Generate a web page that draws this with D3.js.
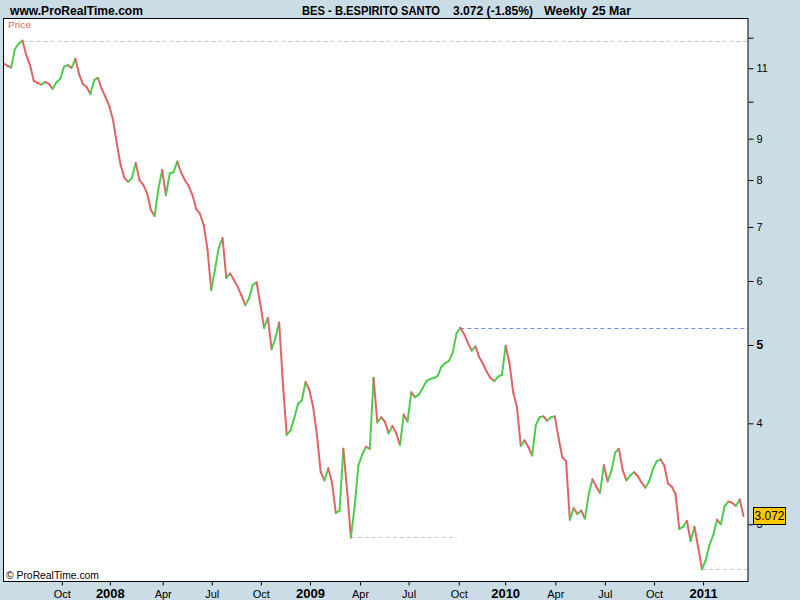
<!DOCTYPE html>
<html>
<head>
<meta charset="utf-8">
<script src="https://cdn.jsdelivr.net/npm/d3@7"></script>
<style>
  html, body { margin: 0; padding: 0; background: #cadce6; }
  svg { display: block; }
  text { font-family: "Liberation Sans", Arial, sans-serif; }
</style>
</head>
<body>
<svg id="chart" width="800" height="600"></svg>
<script>
// ---------- DATA ----------
const firstWeek = "2007-06-18";   // weekly bars (Monday of week), last = 2011-03-21 (25 Mar)
const closes = [
  11.15, 11.08, 11.02, 11.62, 11.80, 11.90, 11.42, 11.10, 10.61, 10.55,
  10.50, 10.58, 10.52, 10.37, 10.57, 10.67, 11.05, 11.10, 11.01, 11.30,
  10.82, 10.52, 10.43, 10.22, 10.64, 10.70, 10.37, 10.13, 9.88, 9.49,
  8.87, 8.35, 8.05, 7.96, 8.05, 8.40, 8.00, 7.89, 7.71, 7.35,
  7.22, 7.80, 8.23, 7.66, 8.15, 8.18, 8.43, 8.18, 8.00, 7.87,
  7.67, 7.37, 7.27, 7.04, 6.57, 5.85, 6.20, 6.60, 6.78, 6.05,
  6.13, 6.02, 5.90, 5.76, 5.60, 5.71, 5.93, 5.98, 5.62, 5.25,
  5.40, 4.94, 5.10, 5.33, 4.47, 3.87, 3.92, 4.06, 4.23, 4.27,
  4.50, 4.40, 4.19, 3.87, 3.48, 3.40, 3.52, 3.38, 3.10, 3.12,
  3.72, 3.30, 2.89, 3.16, 3.55, 3.66, 3.74, 3.72, 4.55, 4.01,
  4.07, 4.02, 3.89, 3.97, 3.89, 3.76, 4.10, 4.02, 4.37, 4.31,
  4.34, 4.42, 4.51, 4.54, 4.55, 4.58, 4.70, 4.75, 4.78, 4.90,
  5.17, 5.25, 5.16, 5.03, 4.92, 4.98, 4.83, 4.74, 4.63, 4.55,
  4.51, 4.57, 4.59, 4.99, 4.75, 4.37, 4.19, 3.75, 3.81, 3.74,
  3.65, 3.98, 4.07, 4.08, 4.03, 4.07, 4.08, 3.84, 3.63, 3.59,
  3.04, 3.14, 3.09, 3.12, 3.05, 3.27, 3.41, 3.34, 3.28, 3.55,
  3.39, 3.49, 3.68, 3.72, 3.50, 3.40, 3.45, 3.48, 3.44, 3.38,
  3.33, 3.39, 3.51, 3.59, 3.61, 3.55, 3.37, 3.34, 3.27, 2.96,
  2.98, 3.03, 2.86, 2.98, 2.81, 2.64, 2.71, 2.83, 2.91, 3.04,
  3.00, 3.16, 3.20, 3.19, 3.16, 3.22, 3.072
];
const lastPrice = 3.072;
const changePct = "-1.85%";
const titleName = "BES - B.ESPIRITO SANTO";
const titlePeriod = "Weekly";
const titleDate = "25 Mar";

const yTickValues = [3, 4, 5, 6, 7, 8, 9, 10, 11, 12];
const yTickLabels = ["3", "4", "5", "6", "7", "8", "9", "", "11", ""];

const xTickDates = ["2007-10-04", "2008-01-01", "2008-04-08", "2008-07-08", "2008-10-07",
  "2009-01-06", "2009-04-09", "2009-07-08", "2009-10-09", "2010-01-03",
  "2010-04-06", "2010-07-07", "2010-10-06", "2011-01-05"];
const xTickLabels = ["Oct", "2008", "Apr", "Jul", "Oct", "2009", "Apr", "Jul", "Oct", "2010",
  "Apr", "Jul", "Oct", "2011"];

// reference levels: start week, end week (null = to right edge), kind
const levelFrom = ["2007-07-23", "2009-03-23", "2009-10-12", "2011-01-03"];
const levelTo   = [null, "2009-10-05", null, null];
const levelKind = ["extreme", "extreme", "recent", "extreme"];

// ---------- LAYOUT ----------
const W = 800, H = 600;
const plot = { left: 3.5, top: 18, right: 748, bottom: 581 };
const RED = "#e06464", GREEN = "#4ccd4c";

const parse = d3.utcParse("%Y-%m-%d");
const start = parse(firstWeek);
const dates = closes.map((_, i) => d3.utcDay.offset(start, 7 * i));
const data = dates.map((d, i) => ({ date: d, close: closes[i] }));

const x = d3.scaleUtc()
  .domain([dates[0], dates[dates.length - 1]])
  .range([3.6, 743.5]);
const y = d3.scaleLog()
  .domain([2.5525, 12.693])
  .range([plot.bottom, plot.top]);

const svg = d3.select("#chart");
svg.append("rect").attr("width", W).attr("height", H).attr("fill", "#cadce6");

// plot area
svg.append("rect")
  .attr("x", plot.left).attr("y", plot.top)
  .attr("width", plot.right - plot.left).attr("height", plot.bottom - plot.top)
  .attr("fill", "#ffffff");

svg.append("clipPath").attr("id", "clip").append("rect")
  .attr("x", plot.left).attr("y", plot.top)
  .attr("width", plot.right - plot.left).attr("height", plot.bottom - plot.top);

// reference dashed levels
const lvl = svg.append("g").attr("clip-path", "url(#clip)");
levelFrom.forEach((f, k) => {
  const d0 = parse(f);
  const idx = dates.findIndex(d => +d === +d0);
  const v = closes[idx];
  const x0 = x(d0);
  const x1 = levelTo[k] ? x(parse(levelTo[k])) : plot.right;
  lvl.append("line")
    .attr("x1", x0).attr("x2", x1)
    .attr("y1", Math.round(y(v)) + 0.5).attr("y2", Math.round(y(v)) + 0.5)
    .attr("stroke", levelKind[k] === "recent" ? "#6d8fe8" : "#c8c8c8")
    .attr("stroke-width", 1)
    .attr("stroke-dasharray", "4,3");
});

// price line: segments coloured by direction
const g = svg.append("g").attr("clip-path", "url(#clip)");
const pairs = d3.pairs(data);
g.selectAll("line.seg").data(pairs).join("line")
  .attr("class", "seg")
  .attr("x1", d => x(d[0].date)).attr("y1", d => y(d[0].close))
  .attr("x2", d => x(d[1].date)).attr("y2", d => y(d[1].close))
  .attr("stroke", d => d[1].close >= d[0].close ? GREEN : RED)
  .attr("stroke-width", 2)
  .attr("stroke-linecap", "round");

// border
svg.append("rect")
  .attr("x", plot.left).attr("y", plot.top + 0.5)
  .attr("width", plot.right - plot.left).attr("height", plot.bottom - plot.top)
  .attr("fill", "none").attr("stroke", "#000").attr("stroke-width", 1);

// right axis
const yAxis = d3.axisRight(y)
  .tickValues(yTickValues)
  .tickSize(5)
  .tickPadding(3)
  .tickFormat((d, i) => yTickLabels[i]);
const ya = svg.append("g").attr("transform", `translate(${plot.right + 0.5},0)`).call(yAxis);
ya.select(".domain").remove();
ya.selectAll("line").attr("stroke", "#000");
ya.selectAll("text").attr("font-size", 11).attr("fill", "#000")
  .attr("font-family", "'Liberation Sans', Arial, sans-serif")
  .filter(d => d === 5).attr("font-weight", "bold").attr("font-size", 12);

// bottom axis
const xAxis = d3.axisBottom(x)
  .tickValues(xTickDates.map(parse))
  .tickSize(4)
  .tickPadding(4)
  .tickFormat((d, i) => xTickLabels[i]);
const xa = svg.append("g").attr("transform", `translate(0,${plot.bottom + 0.5})`).call(xAxis);
xa.select(".domain").remove();
xa.selectAll("line").attr("stroke", "#000");
xa.selectAll("text").attr("fill", "#000")
  .attr("font-family", "'Liberation Sans', Arial, sans-serif")
  .each(function(d, i) {
    const isYear = /^\d{4}$/.test(xTickLabels[i]);
    d3.select(this)
      .attr("font-size", isYear ? 13 : 11)
      .attr("font-weight", isYear ? "bold" : "normal")
      .attr("transform", isYear ? "scale(0.88,1)" : "scale(0.85,1)")
      .attr("x", 0);
  });
// compensate scaling: place text with explicit x inside each tick group
xa.selectAll(".tick text").each(function(d, i) {
  const isYear = /^\d{4}$/.test(xTickLabels[i]);
  d3.select(this).attr("transform", null).attr("dy", null).attr("y", 16);
});

// last price label
const ly = y(lastPrice);
svg.append("rect")
  .attr("x", 753.5).attr("y", Math.round(ly) - 8.5)
  .attr("width", 32).attr("height", 17)
  .attr("fill", "#ffc800").attr("stroke", "#000").attr("stroke-width", 1);
svg.append("text")
  .attr("x", 769.5).attr("y", Math.round(ly) + 4)
  .attr("text-anchor", "middle").attr("font-size", 12).attr("fill", "#000")
  .text(lastPrice.toFixed(3));

// header texts
svg.append("text").attr("x", 10).attr("y", 14.5)
  .attr("font-size", 12).attr("font-weight", "bold")
  .attr("textLength", 133).attr("lengthAdjust", "spacingAndGlyphs")
  .text("www.ProRealTime.com");
svg.append("text").attr("x", 302).attr("y", 14.5)
  .attr("font-size", 12).attr("font-weight", "bold")
  .attr("textLength", 138).attr("lengthAdjust", "spacingAndGlyphs")
  .text(titleName);
svg.append("text").attr("x", 453).attr("y", 14.5)
  .attr("font-size", 12).attr("font-weight", "bold")
  .attr("textLength", 80).attr("lengthAdjust", "spacingAndGlyphs")
  .text(`${lastPrice.toFixed(3)} (${changePct})`);
svg.append("text").attr("x", 544).attr("y", 14.5)
  .attr("font-size", 12).attr("font-weight", "bold")
  .attr("textLength", 43).attr("lengthAdjust", "spacingAndGlyphs")
  .text(titlePeriod);
svg.append("text").attr("x", 592).attr("y", 14.5)
  .attr("font-size", 12).attr("font-weight", "bold")
  .attr("textLength", 39).attr("lengthAdjust", "spacingAndGlyphs")
  .text(titleDate);

svg.append("text").attr("x", 8).attr("y", 28)
  .attr("font-size", 9.5).attr("fill", RED)
  .attr("textLength", 23).attr("lengthAdjust", "spacingAndGlyphs")
  .text("Price");
svg.append("text").attr("x", 6).attr("y", 579)
  .attr("font-size", 10).attr("fill", "#000")
  .attr("textLength", 93).attr("lengthAdjust", "spacingAndGlyphs")
  .text("© ProRealTime.com");
</script>
</body>
</html>
